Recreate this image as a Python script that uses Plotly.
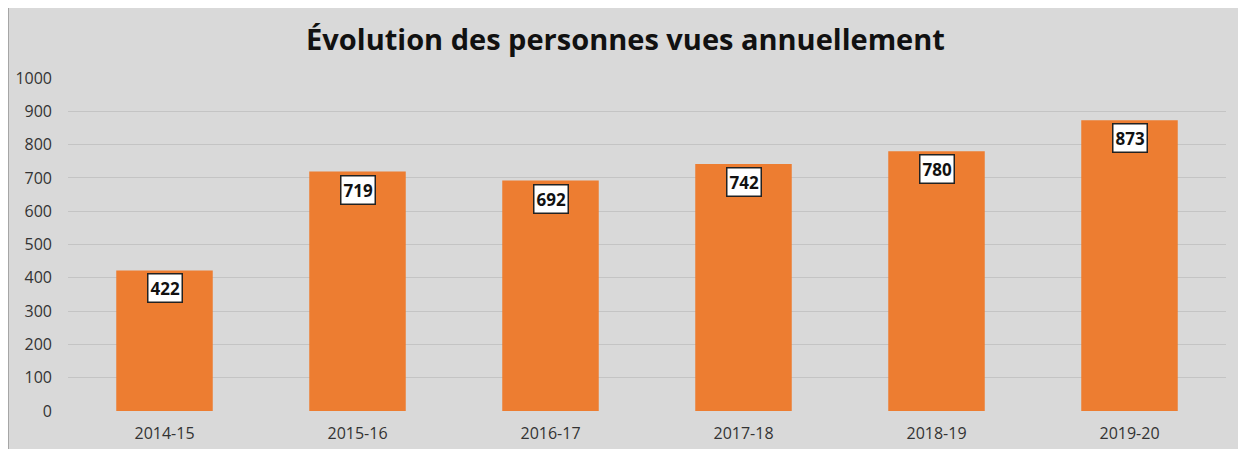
import plotly.graph_objects as go

categories = ["2014-15", "2015-16", "2016-17", "2017-18", "2018-19", "2019-20"]
values = [422, 719, 692, 742, 780, 873]
y_ticks = [0, 100, 200, 300, 400, 500, 600, 700, 800, 900, 1000]

# page has an 8px body margin; figure fills the grey chart area
W, H = 1235, 441
ML, MR, MT, MB = 60, 17, 70, 38
PW = W - ML - MR
PH = H - MT - MB

fig = go.Figure()
fig.add_trace(go.Bar(
    x=categories, y=values,
    marker=dict(color="#ED7D31", line=dict(width=0)),
    width=0.5,
    hoverinfo="x+y",
))

for c, v in zip(categories, values):
    fig.add_annotation(
        x=c, y=v, xref="x", yref="y",
        text=f"<b>{v}</b>", showarrow=False,
        yanchor="top", yshift=-3,
        font=dict(family="Open Sans", size=17, color="#111111"),
        bgcolor="white", bordercolor="#222222", borderwidth=1.5, borderpad=2,
    )

shapes = [
    dict(type="line", xref="paper", yref="paper", x0=-ML / PW + 0.5 / PW, x1=-ML / PW + 0.5 / PW,
         y0=-MB / PH, y1=1 + MT / PH, line=dict(color="#a6a6a6", width=1), layer="above"),
]

fig.update_layout(
    width=W, height=H,
    margin=dict(l=ML, r=MR, t=MT, b=MB, autoexpand=False),
    paper_bgcolor="#d9d9d9", plot_bgcolor="#d9d9d9",
    title=dict(text="<b>Évolution des personnes vues annuellement</b>",
               x=0.5, xref="container", xanchor="center", y=1 - 32 / H, yanchor="middle",
               automargin=False,
               font=dict(family="Open Sans", size=29, color="#111111")),
    shapes=shapes,
    showlegend=False,
    bargap=0.5,
    xaxis=dict(showgrid=False, zeroline=False, showline=False, automargin=False,
               tickfont=dict(family="Open Sans", size=16, color="#333333"),
               ticklabelstandoff=11),
    yaxis=dict(range=[0, 1000], tickvals=y_ticks, showgrid=True, gridcolor="#c4c4c4",
               gridwidth=1, zeroline=False, showline=False, automargin=False,
               tickfont=dict(family="Open Sans", size=16, color="#333333"),
               ticklabelstandoff=15),
)

fig.write_html("out.html")
